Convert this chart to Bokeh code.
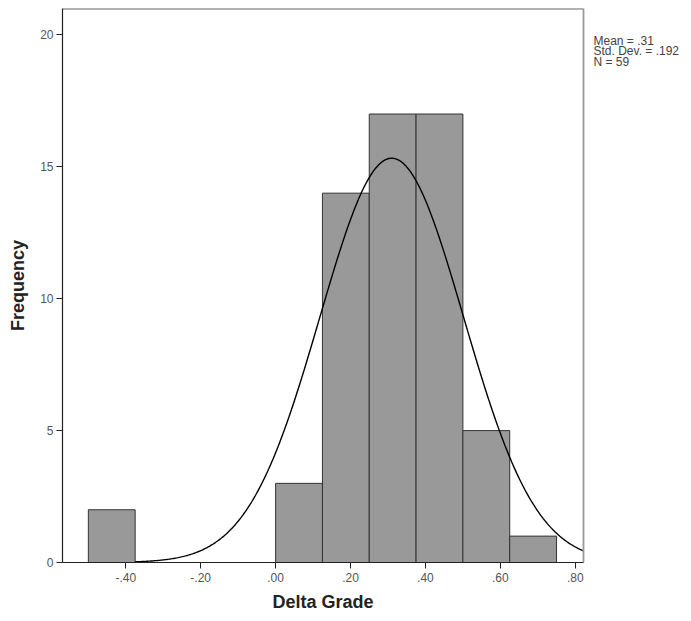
import numpy as np
from bokeh.plotting import figure
from bokeh.models import Range1d, FixedTicker, Title
from bokeh.core.properties import value
from bokeh.embed import file_html
from bokeh.resources import INLINE

# Histogram bins (non-empty) and counts
bin_lo = [-0.500, 0.000, 0.125, 0.250, 0.375, 0.500, 0.625]
bin_hi = [-0.375, 0.125, 0.250, 0.375, 0.500, 0.625, 0.750]
counts = [2, 3, 14, 17, 17, 5, 1]

# Summary statistics
mean = 0.31
std_dev = 0.192
n_obs = 59
bin_width = 0.125

x_ticks = [-0.4, -0.2, 0.0, 0.2, 0.4, 0.6, 0.8]
x_tick_labels = ["-.40", "-.20", ".00", ".20", ".40", ".60", ".80"]
y_ticks = [0, 5, 10, 15, 20]
stats_lines = ["Mean = .31", "Std. Dev. = .192", "N = 59"]

X_MIN, X_MAX = -0.569, 0.822
Y_MIN, Y_MAX = 0, 21.0

FONT = "Liberation Sans"

# layout geometry (pixels)
W, H = 691, 621
LEFT, FRAME_RIGHT, TOP, BOTTOM = 62, 583, 8, 59
px_per_x = (FRAME_RIGHT - LEFT) / (X_MAX - X_MIN)
px_per_y = (H - BOTTOM - TOP) / (Y_MAX - Y_MIN)
X_FULL = X_MAX + (W - FRAME_RIGHT) / px_per_x  # extend plot area to hold the stats text

p = figure(width=W, height=H, output_backend="svg", toolbar_location=None,
           x_range=Range1d(X_MIN, X_FULL), y_range=Range1d(Y_MIN, Y_MAX),
           min_border_left=LEFT, min_border_right=0, min_border_top=TOP,
           min_border_bottom=BOTTOM)
p.xgrid.visible = False
p.ygrid.visible = False
p.background_fill_color = "white"
p.border_fill_color = "white"
p.outline_line_color = None

p.quad(left=bin_lo, right=bin_hi, top=counts, bottom=[0] * len(counts),
       fill_color="#999999", line_color="#333333", line_width=1)

# Fitted normal curve (from the summary statistics)
xs = np.linspace(-0.375, X_MAX, 400)
ys = n_obs * bin_width / (std_dev * np.sqrt(2 * np.pi)) * np.exp(-0.5 * ((xs - mean) / std_dev) ** 2)
p.line(xs, ys, line_color="black", line_width=1.4)

# frame: top and right edges
p.segment(x0=[X_MIN], y0=[Y_MAX], x1=[X_MAX], y1=[Y_MAX], line_color="#666666", line_width=2)
p.segment(x0=[X_MAX], y0=[Y_MIN], x1=[X_MAX], y1=[Y_MAX], line_color="#999999", line_width=1.8)

for ax in (p.xaxis[0], p.yaxis[0]):
    ax.axis_line_color = "#222222"
    ax.axis_line_width = 1.2
    ax.major_tick_line_color = "#222222"
    ax.major_tick_in = 0
    ax.major_tick_out = 6
    ax.minor_tick_line_color = None
    ax.major_label_text_font = FONT
    ax.major_label_text_font_size = "12px"
    ax.major_label_text_color = "#555555"
    ax.axis_label_text_font = FONT
    ax.axis_label_text_font_size = "18px"
    ax.axis_label_text_font_style = "bold"
    ax.axis_label_text_color = "#222222"

p.xaxis[0].ticker = FixedTicker(ticks=x_ticks)
p.xaxis[0].bounds = (X_MIN, X_MAX)
p.xaxis[0].major_label_overrides = {t: l for t, l in zip(x_ticks, x_tick_labels)}
p.xaxis[0].major_label_standoff = 4

# x-axis title, centred under the histogram frame (not the whole canvas)
xtitle = Title(text="Delta Grade", align="left", offset=210, standoff=11,
               text_font=FONT, text_font_size="18px", text_font_style="bold",
               text_color="#222222")
p.add_layout(xtitle, "below")

p.yaxis[0].ticker = FixedTicker(ticks=y_ticks)
p.yaxis[0].axis_label = "Frequency"
p.yaxis[0].major_label_standoff = 3
p.yaxis[0].axis_label_standoff = 9

# stats text to the right of the histogram frame
tx = X_MAX + 10 / px_per_x
ty0 = Y_MAX - 32 / px_per_y
step = 10.5 / px_per_y
p.text(x=[tx] * len(stats_lines), y=[ty0 - step * i for i in range(len(stats_lines))],
       text=stats_lines, text_font=value(FONT), text_font_size="12px",
       text_color="#444444", text_baseline="middle", text_align="left")

open("out.html", "w").write(file_html(p, INLINE))
